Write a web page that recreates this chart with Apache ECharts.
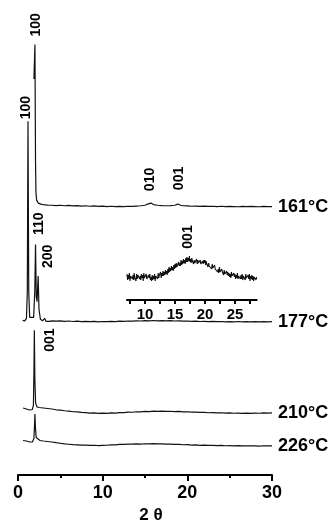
<!DOCTYPE html>
<html><head><meta charset="utf-8">
<script src="https://cdn.jsdelivr.net/npm/echarts@6/dist/echarts.min.js"></script>
<style>html,body{margin:0;padding:0;background:#fff}#c{width:333px;height:529px}</style>
</head><body><div id="c"></div><script>
// ---- data ----
const tempLabels = ['161°C', '177°C', '210°C', '226°C'];
const xTickLabels = [0, 10, 20, 30];
const insetTickLabels = [10, 15, 20, 25];
const insetMinorTicks = [7.5, 10, 12.5, 15, 17.5, 20, 22.5, 25, 27.5];

// [2θ, intensity above the trace's own baseline]
const trace161 = [[1.88,129],[2.0,164],[2.07,45],[2.12,14],[2.2,6],[2.4,3],[2.7,2],[3.0,1.5],[3.5,1],[4,0.8],[4.5,0.5],[5,0.8],[5.5,0.3],[6,0.6],[6.5,0.2],[7,0.5],[7.5,0],[8,0.3],[8.5,-0.2],[9,0.2],[9.5,-0.3],[10,0],[10.5,-0.5],[11,-0.2],[11.5,-0.6],[12,-0.3],[12.5,-0.5],[13,-0.2],[13.5,-0.4],[14,0],[14.5,0.3],[15,0.8],[15.3,2],[15.5,4],[15.7,3],[16,1.5],[16.5,0.8],[17,0.5],[17.5,0.3],[18,0.5],[18.5,0.8],[18.9,2],[19.2,0.8],[19.5,0.3],[20,0.2],[20.5,-0.2],[21,0],[21.5,-0.3],[22,0],[22.5,-0.4],[23,-0.2],[23.5,-0.5],[24,-0.2],[24.5,-0.6],[25,-0.3],[25.5,-0.5],[26,-0.7],[26.5,-0.4],[27,-0.6],[27.5,-0.3],[28,-0.5],[28.5,-0.7],[29,-0.4],[29.5,-0.6],[30,-0.5]];
const trace177 = [[0.55,1],[0.8,0.5],[1.0,3],[1.1,30],[1.18,203],[1.27,30],[1.38,4],[1.6,2],[1.85,4],[1.98,30],[2.07,78],[2.16,25],[2.25,20],[2.38,46],[2.48,12],[2.65,2],[2.9,0.5],[3.15,3],[3.3,0],[3.5,2],[3.7,0],[4,0.5],[4.5,0.2],[5,0.5],[5.5,0],[6,0.3],[6.5,-0.2],[7,0.2],[7.5,-0.3],[8,0],[8.5,-0.4],[9,-0.1],[9.5,-0.5],[10,-0.2],[10.5,-0.4],[11,0],[11.5,-0.3],[12,0.2],[12.5,0],[13,0.3],[13.5,0.1],[14,0.5],[14.5,0.3],[15,0.6],[15.5,0.4],[16,0.8],[16.5,0.5],[17,0.7],[17.5,0.4],[18,0.6],[18.5,0.3],[19,0.5],[19.5,0.1],[20,0.3],[20.5,0],[21,0.2],[21.5,-0.2],[22,0],[22.5,-0.3],[23,-0.1],[23.5,-0.4],[24,-0.2],[24.5,-0.5],[25,-0.3],[25.5,-0.5],[26,-0.2],[26.5,-0.5],[27,-0.3],[27.5,-0.6],[28,-0.4],[28.5,-0.6],[29,-0.3],[29.5,-0.5],[30,-0.4]];
const trace210 = [[0.6,5],[1.0,4],[1.4,3],[1.7,3.5],[1.82,8],[1.88,40],[1.93,84],[1.99,35],[2.08,10],[2.25,6],[2.5,5.5],[3,5],[3.5,4.5],[4,4],[4.5,3.2],[5,2.8],[5.5,2.2],[6,1.8],[6.5,1.2],[7,1],[7.5,0.5],[8,0.3],[8.5,-0.2],[9,0],[9.5,-0.4],[10,-0.2],[10.5,-0.5],[11,0],[11.5,-0.2],[12,0.3],[12.5,0.4],[13,0.8],[13.5,0.7],[14,1.2],[14.5,1.1],[15,1.5],[15.5,1.4],[16,1.8],[16.5,1.6],[17,1.9],[17.5,1.6],[18,1.7],[18.5,1.4],[19,1.5],[19.5,1.1],[20,1.2],[20.5,0.8],[21,0.9],[21.5,0.5],[22,0.6],[22.5,0.2],[23,0.4],[23.5,0],[24,0.2],[24.5,-0.1],[25,0],[25.5,-0.3],[26,-0.1],[26.5,-0.4],[27,-0.2],[27.5,-0.4],[28,-0.2],[28.5,-0.3],[29,0],[29.5,-0.2],[30,0]];
const trace226 = [[0.6,5],[1.0,4.5],[1.4,3.5],[1.7,3.5],[1.88,7],[1.95,20],[2.0,32],[2.06,18],[2.15,8],[2.3,6],[2.6,5],[3,4.5],[3.5,4],[4,3.5],[4.5,2.8],[5,2.2],[5.5,1.6],[6,1.2],[6.5,0.8],[7,0.6],[7.5,0.3],[8,0.4],[8.5,0],[9,0.2],[9.5,-0.1],[10,0.1],[10.5,0.2],[11,0.5],[11.5,0.6],[12,1],[12.5,1],[13,1.4],[13.5,1.3],[14,1.6],[14.5,1.4],[15,1.7],[15.5,1.5],[16,1.8],[16.5,1.5],[17,1.6],[17.5,1.3],[18,1.4],[18.5,1],[19,1.1],[19.5,0.7],[20,0.8],[20.5,0.4],[21,0.5],[21.5,0.1],[22,0.3],[22.5,0],[23,0.1],[23.5,-0.2],[24,0],[24.5,-0.3],[25,-0.1],[25.5,-0.4],[26,-0.2],[26.5,-0.5],[27,-0.3],[27.5,-0.5],[28,-0.4],[28.5,-0.6],[29,-0.3],[29.5,-0.5],[30,-0.4]];

// inset (161°C, enlarged region), sampled every 0.1° starting at 7.0°
const insetStart = 7.0, insetStep = 0.1;
const insetValues = [
 26,20,25,21,27,19,24,22,26,21,
 25,20,27,22,24,19,26,21,25,23,
 27,21,24,20,26,22,25,19,27,22,
 24,20,26,21,23,19,25,22,26,20,
 23,19,25,20,24,21,26,19,24,22,
 26,21,27,22,25,23,28,22,27,24,
 29,24,28,25,30,26,29,25,31,27,
 33,28,32,29,34,30,33,29,35,31,
 36,32,37,33,35,31,38,34,37,34,
 40,35,39,36,41,37,40,36,42,38,
 43,38,42,39,44,38,41,37,42,39,
 41,36,40,37,39,35,41,36,40,37,
 39,35,40,36,38,34,39,36,40,37,
 40,35,39,36,38,33,37,34,36,33,
 35,31,36,32,34,30,35,31,33,30,
 32,28,31,27,33,28,30,26,31,28,
 29,25,30,26,28,24,29,25,28,24,
 27,23,26,22,28,24,26,22,27,23,
 26,21,25,22,27,21,24,22,26,21,
 25,21,26,20,24,22,25,20,26,22,
 24,20,25,21,26,19,24,21,25,20,
 24,19,23,21,25,20,23];

// peak index labels: [text, 2θ, height above baseline]
const peaks161 = [['100', 2.18, 184], ['010', 15.59, 27], ['001', 19.0, 28]];
const peaks177 = [['100', 1.0, 217], ['110', 2.48, 99], ['200', 3.6, 66]];
const peaks210 = [['001', 3.78, 74]];
const peaksInset = [['001', 17.17, 63]];

// ---- layout / style ----
const offsets = [273, 156, 63, 30];
const traces = [trace161, trace177, trace210, trace226];
const peakSets = [peaks161, peaks177, peaks210, []];
const FONT = '"Liberation Sans", Arial, sans-serif';
const INK = '#111';

function peakMarks(list, off) {
  return {
    symbolSize: 0,
    silent: true,
    label: {
      show: true, position: 'inside', rotate: 90, formatter: '{b}',
      color: '#000', fontFamily: FONT, fontWeight: 'bold', fontSize: 14
    },
    data: list.map(p => ({ name: p[0], coord: [p[1], off + p[2]] }))
  };
}

const series = traces.map((t, i) => ({
  type: 'line', xAxisIndex: 0, yAxisIndex: 0, showSymbol: false, symbol: 'none',
  data: t.map(p => [p[0], offsets[i] + p[1]]),
  lineStyle: { color: INK, width: 1.2 },
  endLabel: {
    show: true, formatter: tempLabels[i], distance: 6,
    color: '#000', fontFamily: FONT, fontWeight: 'bold', fontSize: 18
  },
  markPoint: peakSets[i].length ? peakMarks(peakSets[i], offsets[i]) : undefined
}));

series.push({
  type: 'line', xAxisIndex: 1, yAxisIndex: 1, showSymbol: false, symbol: 'none',
  data: insetValues.map((v, i) => [insetStart + i * insetStep, v]),
  lineStyle: { color: INK, width: 1.1 },
  markPoint: peakMarks(peaksInset, 0)
});

const chart = echarts.init(document.getElementById('c'), null, { renderer: 'canvas' });
chart.setOption({
  animation: false,
  backgroundColor: '#fff',
  grid: [
    { left: 18, width: 254, top: 10, height: 472 },
    { left: 127, width: 129.6, top: 220, height: 80 }
  ],
  xAxis: [
    {
      gridIndex: 0, type: 'value', min: 0, max: 30, interval: 10,
      axisLine: { onZero: false, lineStyle: { color: '#000', width: 2 } },
      axisTick: { length: 6, lineStyle: { color: '#000', width: 2 } },
      minorTick: { show: true, splitNumber: 2, length: 3, lineStyle: { color: '#000', width: 2 } },
      splitLine: { show: false },
      axisLabel: { color: '#000', fontFamily: FONT, fontWeight: 'bold', fontSize: 18, margin: 9,
        formatter: v => xTickLabels.includes(v) ? String(v) : '' },
      name: '2 θ', nameLocation: 'middle', nameGap: 32,
      nameTextStyle: { color: '#000', fontFamily: FONT, fontWeight: 'bold', fontSize: 17, padding: [0, 0, 0, 12] }
    },
    {
      gridIndex: 1, type: 'value', min: 7, max: 28.6,
      axisLine: { onZero: false, lineStyle: { color: '#000', width: 2 } },
      axisTick: { customValues: insetMinorTicks, length: 4, lineStyle: { color: '#000', width: 2 } },
      splitLine: { show: false },
      axisLabel: { customValues: insetTickLabels, color: '#000', fontFamily: FONT, fontWeight: 'bold', fontSize: 15, margin: 7 }
    }
  ],
  yAxis: [
    { gridIndex: 0, type: 'value', min: 0, max: 472, show: false },
    { gridIndex: 1, type: 'value', min: 0, max: 80, show: false }
  ],
  series: series
});
</script></body></html>
